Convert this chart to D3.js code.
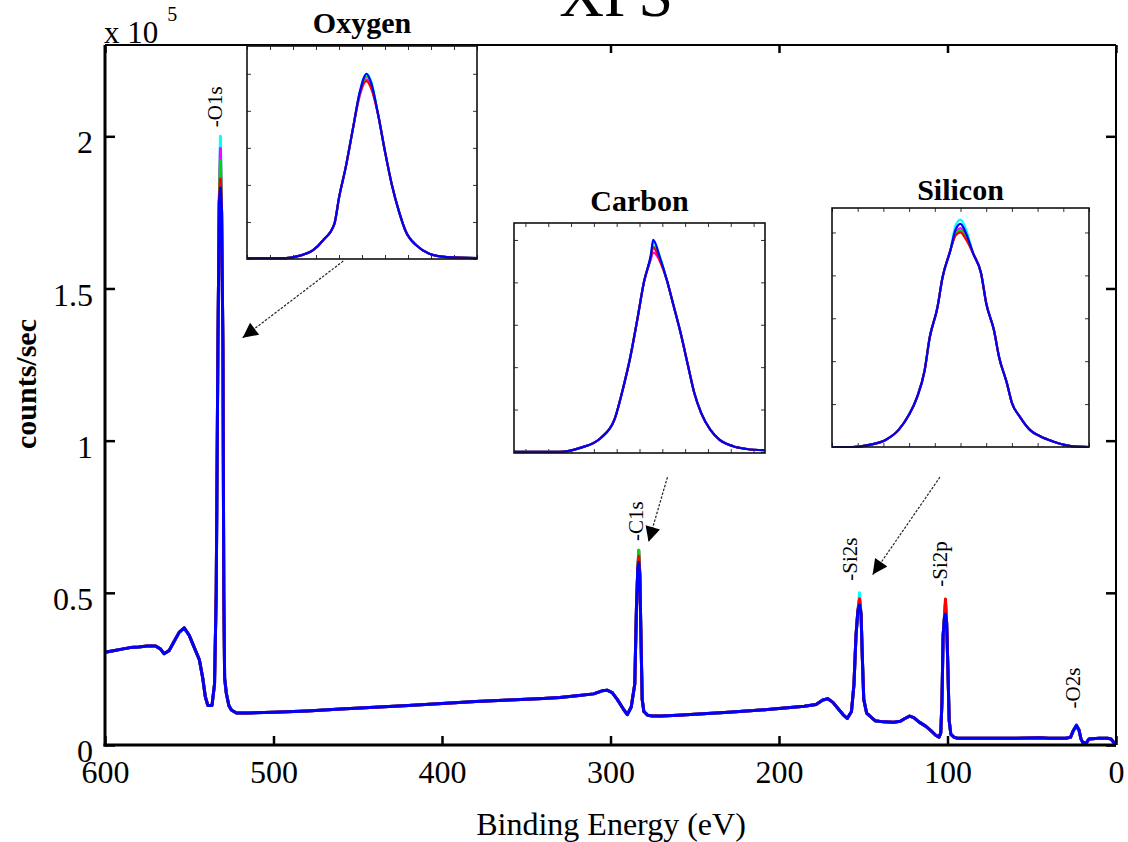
<!DOCTYPE html>
<html>
<head>
<meta charset="utf-8">
<script src="https://cdn.jsdelivr.net/npm/d3@7"></script>
<style>
  body { margin: 0; background: #fff; }
  svg text { font-family: "Liberation Serif", "Times New Roman", serif; fill: #000; }
</style>
</head>
<body>
<svg id="chart" width="1128" height="842"></svg>
<script>
// ---- DATA ----
// survey scan: binding energy (eV) and counts/sec (x 10^5), shared profile
var energy = [600,595,590,585,580,575,570,567,565,562,559,556,553,550,547,544,542,540.5,539,536.5,
  535,534,533,532.2,531.5,530.8,530,529.5,529,528,526.5,525,522,515,500,480,460,440,420,400,
  380,360,340,330,320,310,305,302,299,296,292,290,287.7,285.6,284.6,283.8,283.2,282.6,282,281.2,
  280.2,278,275,270,260,245,230,215,200,185,178,174,171,168,165,162,159.5,157,155.5,154.3,
  153.2,152.2,151.3,150.5,149.7,148,146,143,138,132,128,125,122.5,120,117,113,110,107,105,104,
  103.3,102.6,101.8,101.2,100.5,99.8,99,98,96,94,80,60,45,40,30,27,25.3,23.5,22,20.8,
  19.5,17.5,16,10,5,3,1.5,0];
var counts = [0.305,0.31,0.315,0.32,0.322,0.325,0.325,0.315,0.30,0.31,0.34,0.37,0.385,0.36,0.32,0.28,0.22,0.16,0.13,0.13,
  0.20,0.50,1.30,1.78,1.83,1.75,1.30,0.50,0.22,0.17,0.13,0.115,0.105,0.105,0.108,0.112,0.118,0.124,0.13,0.136,
  0.143,0.148,0.153,0.156,0.162,0.168,0.178,0.18,0.172,0.15,0.115,0.10,0.125,0.20,0.45,0.58,0.60,0.56,0.38,0.15,
  0.11,0.098,0.095,0.095,0.098,0.103,0.108,0.113,0.12,0.127,0.133,0.148,0.152,0.14,0.12,0.10,0.087,0.11,0.20,0.36,
  0.44,0.46,0.43,0.28,0.15,0.105,0.095,0.08,0.076,0.075,0.078,0.088,0.095,0.09,0.076,0.062,0.048,0.032,0.026,0.04,
  0.14,0.36,0.42,0.43,0.40,0.26,0.08,0.035,0.025,0.022,0.022,0.022,0.024,0.022,0.022,0.025,0.048,0.065,0.05,0.02,
  0.006,0.008,0.02,0.022,0.022,0.02,0.01,0.0];

// the five scans differ at the peak tops
var seriesColors = ["#00ffff", "#ff00ff", "#00d800", "#ff0000", "#0000ff"];
var peakEnergy = [531.5, 283.2, 152.2, 101.2, 23.5];
var peakTops = [
  [2.00, 0.63, 0.50, 0.47, 0.065],
  [1.96, 0.64, 0.48, 0.47, 0.062],
  [1.92, 0.64, 0.47, 0.46, 0.066],
  [1.86, 0.62, 0.48, 0.48, 0.060],
  [1.83, 0.60, 0.46, 0.43, 0.065]
];

var peakLabels = ["-O1s", "-C1s", "-Si2s", "-Si2p", "-O2s"];
var labelEnergy = [534.7, 284.9, 158.2, 104.5, 25.8];
var labelHeight = [2.03, 0.67, 0.54, 0.52, 0.12];

var xTicks = [600, 500, 400, 300, 200, 100, 0];
var yTicks = [0, 0.5, 1, 1.5, 2];
var yTickLabels = ["0", "0.5", "1", "1.5", "2"];

// arrows from the insets down to the peaks (eV, counts)
var arrowFrom = [[458.6, 1.59], [266.2, 0.88], [104.5, 0.88]];
var arrowTo = [[518.3, 1.338], [277.4, 0.668], [144.4, 0.56]];

// inset: Oxygen (O1s)
var oxyEnergy = [537.0,535.3,534.7,534.1,533.7,533.2,533.0,532.7,532.4,532.1,531.8,531.6,531.3,531.0,530.7,530.4,530.1,529.6,529.1,528.3,527.0];
var oxyCounts = [0.005,0.005,0.018,0.05,0.10,0.19,0.33,0.50,0.70,0.90,1.0,0.94,0.78,0.58,0.40,0.26,0.15,0.07,0.03,0.01,0.005];
var oxyTopEnergy = [532.1, 531.8, 531.6];
var oxyTops = [[0.90,1.00,0.96],[0.88,0.97,0.93],[0.89,0.985,0.95],[0.89,0.96,0.92],[0.90,1.00,0.95]];

// inset: Carbon (C1s)
var carEnergy = [289.5,287.5,286.6,285.7,285.1,284.7,284.4,284.1,283.8,283.5,283.4,283.1,282.8,282.5,282.2,281.9,281.6,281.3,280.9,280.5,279.9,279.3,278.5];
var carCounts = [0,0,0.019,0.066,0.152,0.309,0.449,0.622,0.804,0.93,1.0,0.915,0.81,0.687,0.562,0.42,0.279,0.184,0.105,0.058,0.027,0.014,0.008];
var carTopEnergy = [283.5, 283.4, 283.1];
var carTops = [[0.93,0.99,0.92],[0.91,0.94,0.90],[0.92,0.97,0.91],[0.92,0.965,0.90],[0.93,1.00,0.915]];

// inset: Silicon (Si2p)
var silEnergy = [107.0,106.2,105.5,104.9,104.4,104.0,103.7,103.4,103.2,102.9,102.7,102.4,102.2,102.0,101.8,101.5,101.2,101.0,100.7,100.5,100.2,100.0,99.7,99.3,98.9,98.4,97.6,97.0];
var silCounts = [0,0,0.011,0.034,0.081,0.151,0.229,0.354,0.509,0.649,0.79,0.914,0.984,1.0,0.97,0.9,0.81,0.67,0.545,0.42,0.30,0.206,0.143,0.08,0.05,0.026,0.003,0];
var silTopEnergy = [102.2, 102.0, 101.8];
var silTops = [[1.03,1.06,1.02],[0.99,1.02,0.985],[0.99,1.01,0.98],[0.984,1.00,0.97],[1.01,1.04,1.00]];

// ---- CHART ----
var svg = d3.select('#chart');
var plot = { left: 105, right: 1116, top: 45, bottom: 745 };

var x = d3.scaleLinear().domain([600, 0]).range([plot.left, plot.right]);
var y = d3.scaleLinear().domain([0, 2.3]).range([plot.bottom, plot.top]);

// swap the peak tops of one scan into the shared profile
function scanValues(en, base, topEn, tops) {
  return base.map(function(c, j) {
    var k = topEn.indexOf(en[j]);
    return k >= 0 ? tops[k] : c;
  });
}

// spectra
var line = d3.line().x(function(d) { return x(d[0]); }).y(function(d) { return y(d[1]); });
seriesColors.forEach(function(col, i) {
  var vals = scanValues(energy, counts, peakEnergy, peakTops[i]);
  svg.append('path')
    .datum(energy.map(function(e, j) { return [e, vals[j]]; }))
    .attr('d', line)
    .attr('fill', 'none')
    .attr('stroke', col)
    .attr('stroke-width', 3)
    .attr('stroke-linejoin', 'round');
});

// axes: inward ticks on all four sides
function styleAxis(g) {
  g.select('.domain').remove();
  g.selectAll('.tick line').attr('stroke', '#000').attr('stroke-width', 2.5);
  g.selectAll('.tick text').attr('font-family', '"Liberation Serif", serif').attr('font-size', 32).attr('fill', '#000');
}
svg.append('g').attr('transform', 'translate(0,' + plot.bottom + ')')
  .call(d3.axisBottom(x).tickValues(xTicks).tickSize(-9).tickPadding(15).tickFormat(d3.format('d')))
  .call(styleAxis);
svg.append('g').attr('transform', 'translate(0,' + plot.top + ')')
  .call(d3.axisTop(x).tickValues(xTicks).tickSize(-8).tickFormat(''))
  .call(styleAxis);
svg.append('g').attr('transform', 'translate(' + plot.left + ',0)')
  .call(d3.axisLeft(y).tickValues(yTicks).tickSize(-10).tickPadding(12)
    .tickFormat(function(d, i) { return yTickLabels[i]; }))
  .call(styleAxis)
  .selectAll('.tick text').attr('dy', '0.52em');
svg.append('g').attr('transform', 'translate(' + plot.right + ',0)')
  .call(d3.axisRight(y).tickValues(yTicks).tickSize(-10).tickFormat(''))
  .call(styleAxis);

// frame
svg.append('line').attr('x1', plot.left).attr('x2', plot.right).attr('y1', plot.top).attr('y2', plot.top)
  .attr('stroke', '#000').attr('stroke-width', 2);
svg.append('line').attr('x1', plot.right).attr('x2', plot.right).attr('y1', plot.top).attr('y2', plot.bottom)
  .attr('stroke', '#000').attr('stroke-width', 2);
svg.append('line').attr('x1', plot.left).attr('x2', plot.left).attr('y1', plot.top).attr('y2', plot.bottom + 1.5)
  .attr('stroke', '#000').attr('stroke-width', 3);
svg.append('line').attr('x1', plot.left - 1.5).attr('x2', plot.right).attr('y1', plot.bottom).attr('y2', plot.bottom)
  .attr('stroke', '#000').attr('stroke-width', 3);

// peak labels
peakLabels.forEach(function(t, i) {
  svg.append('text')
    .attr('transform', 'translate(' + x(labelEnergy[i]) + ',' + y(labelHeight[i]) + ') rotate(-90)')
    .attr('dy', '0.35em')
    .attr('font-size', 21)
    .text(t);
});

// titles
svg.append('text').attr('x', 616).attr('y', 16).attr('text-anchor', 'middle')
  .attr('font-size', 62).text('XPS');
var mult = svg.append('text').attr('x', 104).attr('y', 43).attr('font-size', 31);
mult.append('tspan').text('x 10');
mult.append('tspan').attr('dx', 9).attr('dy', -22).attr('font-size', 20).text('5');
svg.append('text').attr('transform', 'translate(36,384) rotate(-90)').attr('text-anchor', 'middle')
  .attr('font-size', 30).attr('font-weight', 'bold').text('counts/sec');
svg.append('text').attr('x', 611).attr('y', 835).attr('text-anchor', 'middle')
  .attr('font-size', 32).text('Binding Energy (eV)');

// arrows
svg.append('defs').append('marker')
  .attr('id', 'head').attr('viewBox', '0 0 10 10').attr('refX', 10).attr('refY', 5)
  .attr('markerWidth', 19).attr('markerHeight', 15).attr('markerUnits', 'userSpaceOnUse')
  .attr('orient', 'auto')
  .append('path').attr('d', 'M0,0 L10,5 L0,10 Z').attr('fill', '#000');
arrowFrom.forEach(function(a, i) {
  svg.append('line')
    .attr('x1', x(a[0])).attr('y1', y(a[1]))
    .attr('x2', x(arrowTo[i][0])).attr('y2', y(arrowTo[i][1]))
    .attr('stroke', '#222').attr('stroke-width', 1.2)
    .attr('stroke-dasharray', '2.5,1.5')
    .attr('marker-end', 'url(#head)');
});

// insets
function drawInset(box, xDom, yDom, en, base, topEn, tops, title, titleY) {
  var g = svg.append('g');
  var ix = d3.scaleLinear().domain(xDom).range([box.left, box.right]);
  var iy = d3.scaleLinear().domain(yDom).range([box.bottom, box.top]);
  g.append('rect').attr('x', box.left).attr('y', box.top)
    .attr('width', box.right - box.left).attr('height', box.bottom - box.top)
    .attr('fill', '#fff');
  var tickStyle = function(a) {
    a.select('.domain').remove();
    a.selectAll('.tick line').attr('stroke', '#333').attr('stroke-width', 1);
  };
  g.append('g').attr('transform', 'translate(0,' + box.bottom + ')')
    .call(d3.axisBottom(ix).ticks(10).tickSize(-4).tickFormat('')).call(tickStyle);
  g.append('g').attr('transform', 'translate(0,' + box.top + ')')
    .call(d3.axisTop(ix).ticks(10).tickSize(-4).tickFormat('')).call(tickStyle);
  g.append('g').attr('transform', 'translate(' + box.left + ',0)')
    .call(d3.axisLeft(iy).ticks(6).tickSize(-4).tickFormat('')).call(tickStyle);
  g.append('g').attr('transform', 'translate(' + box.right + ',0)')
    .call(d3.axisRight(iy).ticks(6).tickSize(-4).tickFormat('')).call(tickStyle);
  var l = d3.line().curve(d3.curveMonotoneX)
    .x(function(d) { return ix(d[0]); }).y(function(d) { return iy(d[1]); });
  seriesColors.forEach(function(col, i) {
    var vals = scanValues(en, base, topEn, tops[i]);
    g.append('path')
      .datum(en.map(function(e, j) { return [e, vals[j]]; }))
      .attr('d', l)
      .attr('fill', 'none').attr('stroke', col).attr('stroke-width', 2.2)
      .attr('stroke-linejoin', 'round');
  });
  g.append('rect').attr('x', box.left).attr('y', box.top)
    .attr('width', box.right - box.left).attr('height', box.bottom - box.top)
    .attr('fill', 'none').attr('stroke', '#111').attr('stroke-width', 1.6);
  g.append('text').attr('x', (box.left + box.right) / 2).attr('y', titleY)
    .attr('text-anchor', 'middle').attr('font-size', 30).attr('font-weight', 'bold')
    .text(title);
}

drawInset({ left: 247, right: 477, top: 46, bottom: 259 }, [537, 527], [0, 1.15],
  oxyEnergy, oxyCounts, oxyTopEnergy, oxyTops, 'Oxygen', 33);
drawInset({ left: 514, right: 765, top: 223, bottom: 453 }, [289.5, 278.5], [-0.005, 1.08],
  carEnergy, carCounts, carTopEnergy, carTops, 'Carbon', 211);
drawInset({ left: 832, right: 1089, top: 208, bottom: 447 }, [107, 97], [0, 1.114],
  silEnergy, silCounts, silTopEnergy, silTops, 'Silicon', 200);
</script>
</body>
</html>
